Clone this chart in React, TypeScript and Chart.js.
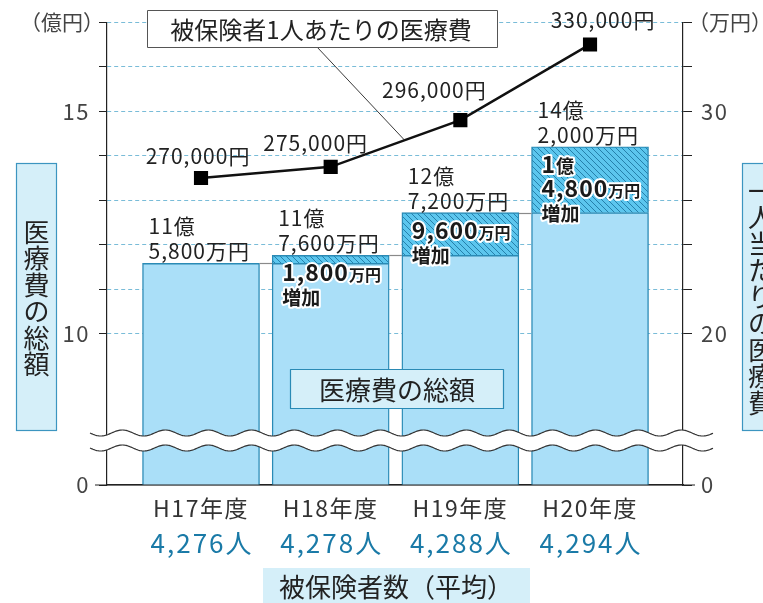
import React, { useEffect, useRef } from 'react';
import { Chart, registerables } from 'chart.js';

Chart.register(...registerables);

// ---- data ----
const categories = ['H17年度', 'H18年度', 'H19年度', 'H20年度'];
const insuredCounts = ['4,276人', '4,278人', '4,288人', '4,294人'];
const totalCost = [11.58, 11.76, 12.72, 14.2]; // 億円
const costIncrease = [null, 0.18, 0.96, 1.48]; // 億円
const perPersonCost = [27.0, 27.5, 29.6, 33.0]; // 万円
const totalCostLabels = [
  ['11億', '5,800万円'],
  ['11億', '7,600万円'],
  ['12億', '7,200万円'],
  ['14億', '2,000万円'],
];
const increaseLabels = [[], ['1,800万円', '増加'], ['9,600万円', '増加'], ['1億', '4,800万円', '増加']];
const perPersonLabels = ['270,000円', '275,000円', '296,000円', '330,000円'];
const leftAxisTicks = [10, 11, 12, 13, 14, 15, 16, 17];
const leftAxisLabels = ['10', '15'];
const rightAxisTicks = [20, 22, 24, 26, 28, 30, 32, 34];
const rightAxisLabels = ['20', '30'];
const LEFT_MIN = 6.6;
const LEFT_MAX = 17;
const RIGHT_MIN = 13.2;
const RIGHT_MAX = 34;

const FF = '"Noto Sans CJK JP", "Noto Sans", sans-serif';

function setSpacing(ctx: any, v: string) {
  if ('letterSpacing' in ctx) ctx.letterSpacing = v;
}

function drawRuns(ctx: CanvasRenderingContext2D, x: number, y: number, text: string, big: number) {
  const runs = text.match(/[0-9,]+|[^0-9,]+/g) || [];
  const pieces: { t: string; f: string; x: number; s: string }[] = [];
  let cx = x;
  for (const r of runs) {
    const isNum = /^[0-9,]+$/.test(r);
    const size = isNum ? big : r === '増加' ? 19 : r === '億' ? 18 : 16;
    const f = `bold ${size}px ${FF}`;
    const s = isNum ? '1px' : '0px';
    ctx.font = f;
    setSpacing(ctx, s);
    pieces.push({ t: r, f, x: cx, s });
    cx += ctx.measureText(r).width;
  }
  ctx.strokeStyle = '#fff';
  ctx.lineWidth = 4;
  ctx.lineJoin = 'round';
  for (const p of pieces) {
    ctx.font = p.f;
    setSpacing(ctx, p.s);
    ctx.strokeText(p.t, p.x, y);
  }
  ctx.fillStyle = '#1a1a1a';
  for (const p of pieces) {
    ctx.font = p.f;
    setSpacing(ctx, p.s);
    ctx.fillText(p.t, p.x, y);
  }
  setSpacing(ctx, '0px');
}

function wave(ctx: CanvasRenderingContext2D, x0: number, x1: number, y: number, amp: number, period: number, reverse: boolean, move: boolean) {
  const pts: [number, number][] = [];
  for (let x = x0; x <= x1; x += 1) pts.push([x, y + amp * Math.sin(((x - x0) / period) * 2 * Math.PI)]);
  if (reverse) pts.reverse();
  pts.forEach((p, i) => {
    if (i === 0 && move) ctx.moveTo(p[0], p[1]);
    else ctx.lineTo(p[0], p[1]);
  });
}

function vText(ctx: CanvasRenderingContext2D, text: string, cx: number, cy0: number, step: number) {
  Array.from(text).forEach((ch, i) => ctx.fillText(ch, cx, cy0 + i * step));
}

const decorPlugin = {
  id: 'decor',
  beforeDraw(chart: any) {
    setSpacing(chart.ctx, '1.5px');
  },
  beforeDatasetsDraw(chart: any) {
    setSpacing(chart.ctx, '0px');
  },
  afterDatasetsDraw(chart: any) {
    const ctx: CanvasRenderingContext2D = chart.ctx;
    const ca = chart.chartArea;
    const ys = chart.scales.y;
    const baseMeta = chart.getDatasetMeta(0);
    const lineMeta = chart.getDatasetMeta(2);
    const n = categories.length;
    ctx.save();

    // step connectors
    ctx.strokeStyle = '#8a8a8a';
    ctx.lineWidth = 1.2;
    for (let i = 0; i < n - 1; i++) {
      const a = baseMeta.data[i];
      const b = baseMeta.data[i + 1];
      const y = Math.round(ys.getPixelForValue(totalCost[i])) + 0.5;
      ctx.beginPath();
      ctx.moveTo(a.x + a.width / 2, y);
      ctx.lineTo(b.x - b.width / 2, y);
      ctx.stroke();
    }

    // axis break
    const yU = ca.bottom - 52;
    const yL = ca.bottom - 37;
    const wx0 = ca.left - 17;
    const wx1 = ca.right + 30;
    ctx.beginPath();
    wave(ctx, wx0, wx1, yU, 3, 43, false, true);
    wave(ctx, wx0, wx1, yL, 3, 43, true, false);
    ctx.closePath();
    ctx.fillStyle = '#fff';
    ctx.fill();
    ctx.strokeStyle = '#333';
    ctx.lineWidth = 1.2;
    ctx.beginPath();
    wave(ctx, wx0, wx1, yU, 3, 43, false, true);
    ctx.stroke();
    ctx.beginPath();
    wave(ctx, wx0, wx1, yL, 3, 43, false, true);
    ctx.stroke();

    // baseline extension
    ctx.strokeStyle = '#222';
    ctx.lineWidth = 1.2;
    ctx.beginPath();
    ctx.moveTo(ca.left - 12, ca.bottom);
    ctx.lineTo(ca.right + 12, ca.bottom);
    ctx.stroke();

    // total labels
    ctx.textAlign = 'left';
    ctx.textBaseline = 'alphabetic';
    ctx.fillStyle = '#222';
    ctx.font = `21px ${FF}`;
    setSpacing(ctx, '1px');
    for (let i = 0; i < n; i++) {
      const el = baseMeta.data[i];
      const left = el.x - el.width / 2 + 6;
      const top = ys.getPixelForValue(totalCost[i]);
      ctx.fillText(totalCostLabels[i][0], left, top - 29);
      ctx.fillText(totalCostLabels[i][1], left, top - 4);
    }
    setSpacing(ctx, '0px');

    // increase labels
    for (let i = 0; i < n; i++) {
      const lines = increaseLabels[i];
      if (!lines.length) continue;
      const el = baseMeta.data[i];
      const left = el.x - el.width / 2 + 10;
      const top = ys.getPixelForValue(totalCost[i]);
      lines.forEach((ln, k) => drawRuns(ctx, left, top + 26 + k * 24, ln, 23));
    }

    // per-person labels
    const shift = [
      [-3, -14],
      [-15, -16],
      [-26, -22],
      [13, -16],
    ];
    ctx.font = `21px ${FF}`;
    ctx.fillStyle = '#222';
    ctx.textAlign = 'center';
    setSpacing(ctx, '1px');
    for (let i = 0; i < n; i++) {
      const p = lineMeta.data[i];
      ctx.fillText(perPersonLabels[i], p.x + shift[i][0], p.y + shift[i][1]);
    }
    setSpacing(ctx, '0px');

    // line callout box
    const p1 = lineMeta.data[1];
    const p2 = lineMeta.data[2];
    const ex = p1.x + (p2.x - p1.x) * 0.57;
    const ey = p1.y + (p2.y - p1.y) * 0.57;
    ctx.strokeStyle = '#222';
    ctx.lineWidth = 0.9;
    ctx.beginPath();
    ctx.moveTo(317, 47);
    ctx.lineTo(ex, ey);
    ctx.stroke();
    ctx.fillStyle = '#fff';
    ctx.fillRect(147.5, 10.5, 350, 37);
    ctx.strokeStyle = '#555';
    ctx.lineWidth = 1;
    ctx.strokeRect(147.5, 10.5, 350, 37);
    ctx.fillStyle = '#222';
    ctx.font = `24px ${FF}`;
    ctx.textBaseline = 'middle';
    ctx.fillText('被保険者1人あたりの医療費', 321, 30);

    // bar legend box
    ctx.fillStyle = '#d5eff9';
    ctx.fillRect(290.5, 369.5, 213, 39);
    ctx.strokeStyle = '#2a8ab5';
    ctx.lineWidth = 1.2;
    ctx.strokeRect(290.5, 369.5, 213, 39);
    ctx.fillStyle = '#222';
    ctx.font = `26px ${FF}`;
    ctx.fillText('医療費の総額', 397, 390);

    ctx.restore();
  },
  afterDraw(chart: any) {
    const ctx: CanvasRenderingContext2D = chart.ctx;
    const ca = chart.chartArea;
    const xs = chart.scales.x;
    ctx.save();
    setSpacing(ctx, '0px');
    // unit labels
    ctx.fillStyle = '#444';
    ctx.font = `21px ${FF}`;
    ctx.textAlign = 'center';
    ctx.textBaseline = 'middle';
    ctx.fillText('（億円）', 62, 22);
    ctx.fillText('（万円）', 730, 22);

    // vertical axis title boxes
    ctx.fillStyle = '#d5eff9';
    ctx.strokeStyle = '#3c95c0';
    ctx.lineWidth = 1.2;
    ctx.fillRect(16.5, 163.5, 40, 267);
    ctx.strokeRect(16.5, 163.5, 40, 267);
    ctx.fillRect(742.5, 163.5, 40, 267);
    ctx.strokeRect(742.5, 163.5, 40, 267);
    ctx.fillStyle = '#222';
    ctx.font = `26px ${FF}`;
    vText(ctx, '医療費の総額', 36.5, 232, 26.5);
    vText(ctx, '一人当たりの医療費', 761, 191, 26.5);

    // insured counts
    ctx.fillStyle = '#1a7aa7';
    ctx.font = `26px ${FF}`;
    setSpacing(ctx, '2px');
    for (let i = 0; i < insuredCounts.length; i++) {
      ctx.fillText(insuredCounts[i], xs.getPixelForValue(i) + 1, ca.bottom + 58);
    }
    setSpacing(ctx, '0px');

    // x title box
    ctx.fillStyle = '#d5eff9';
    ctx.fillRect(263, 568, 267, 40);
    ctx.fillStyle = '#222';
    ctx.font = `26px ${FF}`;
    ctx.fillText('被保険者数（平均）', 396, 587);
    ctx.restore();
  },
};

export default function App() {
  const ref = useRef<HTMLCanvasElement>(null);
  useEffect(() => {
    const canvas = ref.current;
    if (!canvas) return;
    const pc = document.createElement('canvas');
    pc.width = 6;
    pc.height = 6;
    const p = pc.getContext('2d')!;
    p.fillStyle = '#5cc6ee';
    p.fillRect(0, 0, 6, 6);
    p.strokeStyle = '#1f78a3';
    p.lineWidth = 0.9;
    p.beginPath();
    p.moveTo(-1, -1);
    p.lineTo(7, 7);
    p.moveTo(-1, 5);
    p.lineTo(1, 7);
    p.moveTo(5, -1);
    p.lineTo(7, 1);
    p.stroke();
    const pattern = canvas.getContext('2d')!.createPattern(pc, 'repeat');

    const base = totalCost.map((v, i) => v - (costIncrease[i] ?? 0));

    const chart = new Chart(canvas, {
      type: 'bar',
      data: {
        datasets: [
          {
            type: 'bar',
            label: 'base',
            data: base.map((v, i) => ({ x: i, y: v })),
            backgroundColor: '#aadff8',
            borderColor: '#2a8ab5',
            borderWidth: 1.4,
            barThickness: 117,
            stack: 's',
            yAxisID: 'y',
            order: 1,
          },
          {
            type: 'bar',
            label: 'increase',
            data: costIncrease.map((v, i) => ({ x: i, y: v })),
            backgroundColor: pattern as any,
            borderColor: '#2a8ab5',
            borderWidth: 1.4,
            barThickness: 117,
            stack: 's',
            yAxisID: 'y',
            order: 1,
          },
          {
            type: 'line',
            label: 'per person',
            data: perPersonCost.map((v, i) => ({ x: i, y: v })),
            yAxisID: 'y2',
            borderColor: '#111',
            borderWidth: 2.5,
            pointStyle: 'rect',
            pointRadius: 10,
            pointBackgroundColor: '#000',
            pointBorderWidth: 0,
            tension: 0,
            order: 0,
          },
        ] as any,
      },
      options: {
        responsive: false,
        animation: false,
        layout: { padding: { top: 21.5, left: 0, right: 0, bottom: 0 } },
        plugins: { legend: { display: false }, tooltip: { enabled: false } },
        scales: {
          x: {
            type: 'linear',
            min: -0.725,
            max: 3.717,
            offset: false,
            stacked: true,
            grid: { display: false, drawTicks: false },
            border: { display: true, color: '#222', width: 1.2 },
            afterBuildTicks: (s: any) => {
              s.ticks = categories.map((_, i) => ({ value: i }));
            },
            afterFit: (s: any) => {
              s.height = 118;
            },
            ticks: {
              autoSkip: false,
              maxRotation: 0,
              padding: 9,
              color: '#333',
              font: { family: FF, size: 23 },
              callback: (v: any) => categories[v] ?? '',
            },
          },
          y: {
            type: 'linear',
            position: 'left',
            stacked: true,
            min: LEFT_MIN,
            max: LEFT_MAX,
            afterBuildTicks: (s: any) => {
              s.ticks = [LEFT_MIN, ...leftAxisTicks].map((v) => ({ value: v }));
            },
            afterFit: (s: any) => {
              s.width = 107;
            },
            grid: {
              color: (c: any) => (c.tick && c.tick.value === LEFT_MIN ? 'rgba(0,0,0,0)' : '#79bcd8'),
              tickColor: '#222',
              tickLength: 8,
              lineWidth: 1,
            },
            border: { color: '#222', width: 1.2, dash: [4, 3] },
            ticks: {
              autoSkip: false,
              padding: 9,
              color: '#444',
              font: { family: FF, size: 22 },
              callback: (v: any) => (v === LEFT_MIN ? '0' : leftAxisLabels.includes(String(v)) ? String(v) : ''),
            },
          },
          y2: {
            type: 'linear',
            position: 'right',
            min: RIGHT_MIN,
            max: RIGHT_MAX,
            afterBuildTicks: (s: any) => {
              s.ticks = [RIGHT_MIN, ...rightAxisTicks].map((v) => ({ value: v }));
            },
            afterFit: (s: any) => {
              s.width = 80;
            },
            grid: { drawOnChartArea: false, tickColor: '#222', tickLength: 9 },
            border: { color: '#222', width: 1.2 },
            ticks: {
              autoSkip: false,
              padding: 9,
              color: '#444',
              font: { family: FF, size: 22 },
              callback: (v: any) => (v === RIGHT_MIN ? '0' : rightAxisLabels.includes(String(v)) ? String(v) : ''),
            },
          },
        },
      } as any,
      plugins: [decorPlugin],
    });
    return () => chart.destroy();
  }, []);

  return (
    <div style={{ position: 'absolute', left: 0, top: 0, width: 763, height: 603, background: '#fff', overflow: 'hidden' }}>
      <canvas ref={ref} width={763} height={603} style={{ display: 'block' }} />
    </div>
  );
}
